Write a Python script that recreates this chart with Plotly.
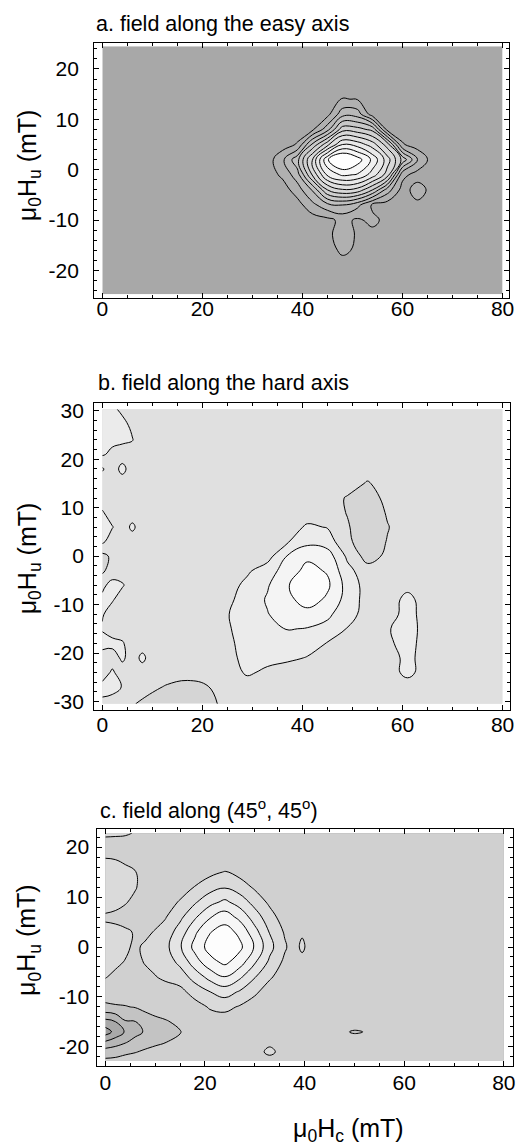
import plotly.graph_objects as go

W, H = 521, 1148
FONT = "Liberation Sans, Arial, sans-serif"

# ---------------- panel a : field along the easy axis ----------------
a_x = [0, 27, 30, 33, 36, 39, 42, 45, 48, 51, 54, 57, 60, 63, 66, 69, 80]
a_y = [-24.7, -19, -16, -13, -10, -7, -4, -1, 2, 5, 8, 11, 14, 17, 24.5]
a_z = [
    [0, 0, 0, 0, 0, 0, 0, 0, 0, 0, 0, 0, 0, 0, 0, 0, 0],
    [0, 0, 0, 0, 0, 0, 0, 0, 0, 0, 0, 0, 0, 0, 0, 0, 0],
    [0, 0, 0, 0, 0, 0, 0, 0, 0.75, 0.3, 0, 0, 0, 0, 0, 0, 0],
    [0, 0, 0, 0, 0, 0, 0, 0.3, 0.9, 0.4, 0.2, 0, 0, 0, 0, 0, 0],
    [0, 0, 0, 0, 0, 0, 0, 0.2, 0.8, 0.35, 0.75, 0.2, 0, 0, 0, 0, 0],
    [0, 0, 0, 0, 0, 0.1, 1.2, 2.2, 2.5, 1.8, 0.3, 0, 0, 0.3, 0, 0, 0],
    [0, 0, 0, 0, 0, 1.0, 2.6, 5.5, 6.39, 6.12, 4.5, 2.0, 0.1, 0.9, 0.2, 0, 0],
    [0, 0, 0, 0, 0.7, 2.06, 5.62, 8.69, 9.69, 9.4, 8.05, 6.0, 0.8, 0.1, 0, 0, 0],
    [0, 0, 0, 0, 1.27, 3.2, 6.67, 10.39, 12.0, 11.0, 9.27, 6.96, 4.21, 1.5, 0, 0, 0],
    [0, 0, 0, 0, 0, 0.6, 3.7, 6.2, 8.5, 8.08, 7.0, 5.0, 0.6, 0, 0, 0, 0],
    [0, 0, 0, 0, 0, 0, 0.3, 2.1, 5.1, 4.89, 4.2, 0.1, 0, 0, 0, 0, 0],
    [0, 0, 0, 0, 0, 0, 0, 0.2, 2.1, 2.0, 0, 0, 0, 0, 0, 0, 0],
    [0, 0, 0, 0, 0, 0, 0, 0, 0.55, 0.45, 0, 0, 0, 0, 0, 0, 0],
    [0, 0, 0, 0, 0, 0, 0, 0, 0, 0, 0, 0, 0, 0, 0, 0, 0],
    [0, 0, 0, 0, 0, 0, 0, 0, 0, 0, 0, 0, 0, 0, 0, 0, 0],
]
a_colors = ["#a8a8a8", "#b0b0b0", "#b8b8b8", "#c0c0c0", "#c8c8c8", "#d0d0d0",
            "#d8d8d8", "#e0e0e0", "#e8e8e8", "#f0f0f0", "#f7f7f7", "#ffffff"]

# ---------------- panel b : field along the hard axis ----------------
b_x = [0, 2, 4, 6, 8, 10, 13, 17, 21, 25, 29, 33, 37, 41, 45, 49, 53, 57, 61, 65, 70, 80]
b_y = [-30.5, -27, -24, -21, -18, -15, -12, -9, -6, -3, 0, 3, 6, 9, 12, 15, 18, 21, 24, 27, 30.3]
b_z = [
    [0.3, 0, 0, -0.4, -0.7, -0.9, -1.2, -1.3, -1.0, 0, 0, 0, 0, 0, 0, 0, 0, 0, 0, 0, 0, 0],
    [0.8, 0.9, 0.45, 0, 0, -0.3, -0.6, -0.9, -0.55, 0, 0, 0, 0, 0, 0, 0, 0, 0, 0, 0, 0, 0],
    [0, 0.65, 0, 0, 0, 0, 0, 0, 0, 0, 0.65, 0.3, 0, 0, 0, 0, 0, 0, 0.8, 0, 0, 0],
    [0, 0, 0.7, 0, 0.75, 0, 0, 0, 0, 0.2, 0.8, 0.8, 0.7, 0.45, 0, 0, 0, 0, 0.8, 0, 0, 0],
    [0.9, 0.8, 0.6, 0, 0, 0, 0, 0, 0, 0.3, 0.85, 1.0, 1.0, 0.9, 0.45, 0, 0, 0.3, 0.9, 0, 0, 0],
    [0.4, 0, 0, 0, 0, 0, 0, 0, 0, 0.4, 0.9, 1.2, 1.55, 1.45, 1.2, 0.45, 0, 0.4, 1.0, 0, 0, 0],
    [0.6, 0, 0, 0, 0, 0, 0, 0, 0, 0.45, 1.0, 1.45, 2.0, 2.1, 1.7, 0.9, 0.1, 0, 0.9, 0, 0, 0],
    [0.7, 0.6, 0, 0, 0, 0, 0, 0, 0, 0.3, 0.9, 1.6, 2.2, 3.0, 2.3, 1.1, 0.1, 0, 0.8, 0, 0, 0],
    [0.3, 0.8, 0.6, 0, 0, 0, 0, 0, 0, 0.1, 0.75, 1.4, 2.4, 3.4, 2.7, 1.1, 0.1, 0, 0.2, 0, 0, 0],
    [-0.7, 0, 0, 0, 0, 0, 0, 0, 0, 0, 0.35, 1.0, 2.0, 2.8, 2.4, 0.8, -0.1, 0, 0, 0, 0, 0],
    [-0.8, -0.3, 0, 0, 0, 0, 0, 0, 0, 0, 0, 0.1, 1.55, 2.3, 2.0, 0.3, -0.9, -0.3, 0, 0, 0, 0],
    [0.7, 0, 0, 0, 0, 0, 0, 0, 0, 0, 0, 0, 0.4, 1.2, 1.0, -0.3, -1.1, -0.45, 0, 0, 0, 0],
    [0.9, 0.55, 0, 0.7, 0, 0, 0, 0, 0, 0, 0, 0, 0, 0.65, 0.45, -0.4, -1.2, -0.55, 0, 0, 0, 0],
    [0.6, 0, 0, 0, 0, 0, 0, 0, 0, 0, 0, 0, 0, 0, 0, -0.55, -1.2, -0.4, 0, 0, 0, 0],
    [0, 0, 0, 0, 0, 0, 0, 0, 0, 0, 0, 0, 0, 0, 0, -0.6, -1.0, -0.2, 0, 0, 0, 0],
    [0, 0, 0, 0, 0, 0, 0, 0, 0, 0, 0, 0, 0, 0, 0, 0, -0.6, 0, 0, 0, 0, 0],
    [-0.6, 0, 0.8, 0, 0, 0, 0, 0, 0, 0, 0, 0, 0, 0, 0, 0, 0, 0, 0, 0, 0, 0],
    [0.6, 0.3, 0, 0, 0, 0, 0, 0, 0, 0, 0, 0, 0, 0, 0, 0, 0, 0, 0, 0, 0, 0],
    [0.9, 0.7, 0.7, 0.55, 0, 0, 0, 0, 0, 0, 0, 0, 0, 0, 0, 0, 0, 0, 0, 0, 0, 0],
    [0.8, 1.0, 0.8, 0.3, 0, 0, 0, 0, 0, 0, 0, 0, 0, 0, 0, 0, 0, 0, 0, 0, 0, 0],
    [0.8, 0.7, 0.3, 0, 0, 0, 0, 0, 0, 0, 0, 0, 0, 0, 0, 0, 0, 0, 0, 0, 0, 0],
]
b_colors = ["#d5d5d5", "#e0e0e0", "#ebebeb", "#f4f4f4", "#fcfcfc"]

# ---------------- panel c : field along (45°, 45°) ----------------
c_x = [0, 2, 4, 6, 8, 10, 12, 15, 18, 21, 24, 27, 30, 33, 36, 38, 39.5, 41, 44, 50, 60, 70, 80]
c_y = [-22.8, -21, -19, -17, -15, -12, -9, -6, -3, 0, 3, 6, 9, 12, 15, 18, 21, 22.8]
c_z = [
    [-0.3, -0.25, 0, 0, 0, 0, 0, 0, 0, 0, 0, 0, 0, 0, 0, 0, 0, 0, 0, 0, 0, 0, 0],
    [-1.0, -0.9, -0.75, -0.55, -0.35, -0.2, 0, 0, 0, 0, 0, 0, 0, 0.8, 0, 0, 0, 0, 0, 0, 0, 0, 0],
    [-2.4, -2.0, -1.6, -1.2, -0.9, -0.7, -0.55, -0.2, 0, 0, 0, 0, 0, 0.2, 0, 0, 0, 0, 0, 0, 0, 0, 0],
    [-4.0, -3.2, -2.4, -1.8, -1.4, -1.0, -0.8, -0.55, -0.1, 0, 0, 0, 0, 0, 0, 0, 0, 0, 0, -0.6, 0, 0, 0],
    [-2.9, -2.55, -1.6, -1.55, -0.9, -0.75, -0.6, -0.3, 0, 0, 0, 0, 0, 0, 0, 0, 0, 0, 0, 0, 0, 0, 0],
    [-0.7, -0.6, -0.55, -0.45, -0.3, -0.1, 0, 0, 0.1, 0.6, 0.77, 0.4, 0, 0, 0, 0, 0, 0, 0, 0, 0, 0, 0],
    [0, 0, 0, 0, 0, 0, 0, 0.2, 0.9, 1.48, 1.94, 1.38, 0.68, 0, 0, 0, 0, 0, 0, 0, 0, 0, 0],
    [0.55, 0.3, 0, 0, 0.1, 0.45, 0.7, 0.98, 1.91, 2.85, 3.47, 2.68, 1.56, 0.63, 0, 0, 0, 0, 0, 0, 0, 0, 0],
    [0.8, 0.7, 0.45, 0.1, 0.6, 0.8, 0.95, 1.75, 3.05, 4.16, 4.73, 3.98, 2.62, 1.3, 0.29, 0, 0, 0, 0, 0, 0, 0, 0],
    [0.9, 0.8, 0.7, 0.3, 0.7, 0.9, 1.18, 2.38, 3.83, 4.88, 5.6, 4.73, 3.4, 1.81, 0.64, 0, 0.8, 0, 0, 0, 0, 0, 0],
    [0.9, 0.85, 0.7, 0.4, 0.2, 0.6, 0.91, 1.96, 3.32, 4.45, 4.95, 4.25, 2.87, 1.44, 0.4, 0, 0.3, 0, 0, 0, 0, 0, 0],
    [0.3, 0.2, 0, 0, 0, 0, 0.42, 1.27, 2.36, 3.42, 4.02, 3.22, 2.0, 0.91, 0, 0, 0, 0, 0, 0, 0, 0, 0],
    [1.1, 0.9, 0.6, 0.2, 0, 0, 0, 0.6, 1.38, 2.18, 2.71, 2.04, 1.14, 0.29, 0, 0, 0, 0, 0, 0, 0, 0, 0],
    [1.3, 1.0, 0.85, 0.6, 0, 0, 0, 0, 0.54, 1.09, 1.41, 1.0, 0.34, 0, 0, 0, 0, 0, 0, 0, 0, 0, 0],
    [1.1, 1.0, 0.8, 0.55, 0, 0, 0, 0, 0, 0.24, 0.55, 0.16, 0, 0, 0, 0, 0, 0, 0, 0, 0, 0, 0],
    [0.45, 0.4, 0.2, 0, 0, 0, 0, 0, 0, 0, 0, 0, 0, 0, 0, 0, 0, 0, 0, 0, 0, 0, 0],
    [0.1, 0, 0, 0, 0, 0, 0, 0, 0, 0, 0, 0, 0, 0, 0, 0, 0, 0, 0, 0, 0, 0, 0],
    [0.8, 0.8, 0.7, 0.4, 0, 0, 0, 0, 0, 0, 0, 0, 0, 0, 0, 0, 0, 0, 0, 0, 0, 0, 0],
]
c_colors = ["#9c9c9c", "#a9a9a9", "#b6b6b6", "#c3c3c3", "#d0d0d0",
            "#dadada", "#e4e4e4", "#eeeeee", "#f6f6f6", "#fdfdfd"]

# tick values / labels
x_ticks = [0, 20, 40, 60, 80]
a_yticks = [-20, -10, 0, 10, 20]
b_yticks = [-30, -20, -10, 0, 10, 20, 30]
c_yticks = [-20, -10, 0, 10, 20]


def band_scale(colors):
    n = len(colors)
    cs = []
    for k, c in enumerate(colors):
        lo = max(0.0, (k - 0.5) / (n - 1))
        hi = min(1.0, (k + 0.5) / (n - 1))
        cs += [[lo, c], [hi, c]]
    return cs


def contour(x, y, z, colors, start, end, xa, ya):
    return go.Contour(
        x=x, y=y, z=z, xaxis=xa, yaxis=ya,
        autocontour=False,
        contours=dict(start=start, end=end, size=1, coloring="fill"),
        colorscale=band_scale(colors), showscale=False,
        line=dict(color="black", width=1, smoothing=1.2),
        hoverinfo="skip",
    )


fig = go.Figure()
fig.add_trace(contour(a_x, a_y, a_z, a_colors, 0.5, 10.5, "x", "y"))
fig.add_trace(contour(b_x, b_y, b_z, b_colors, -0.5, 2.5, "x2", "y2"))
fig.add_trace(contour(c_x, c_y, c_z, c_colors, -3.5, 4.5, "x3", "y3"))

tickfont = dict(family=FONT, size=21, color="black")
common = dict(ticks="inside", ticklen=5, tickwidth=1, tickcolor="black",
              showline=True, linecolor="black", linewidth=1, mirror="allticks",
              showgrid=False, zeroline=False, tickfont=tickfont)


def xaxis(domain, rng, anchor, standoff):
    return dict(domain=domain, range=rng, anchor=anchor,
                tickmode="array", tickvals=x_ticks, ticktext=[str(v) for v in x_ticks],
                minor=dict(ticks="inside", ticklen=3, tickcolor="black", tickwidth=1,
                           tickmode="linear", tick0=0, dtick=5, showgrid=False),
                ticklabelstandoff=standoff, **common)


def yaxis(domain, rng, anchor, ticks, standoff):
    return dict(domain=domain, range=rng, anchor=anchor,
                tickmode="array", tickvals=ticks, ticktext=[str(v) for v in ticks],
                minor=dict(ticks="inside", ticklen=3, tickcolor="black", tickwidth=1,
                           tickmode="linear", tick0=0, dtick=2, showgrid=False),
                ticklabelstandoff=standoff, **common)


fig.update_layout(
    width=W, height=H, margin=dict(l=0, r=0, t=0, b=0),
    paper_bgcolor="white", plot_bgcolor="white", showlegend=False,
    xaxis=xaxis([95 / W, 514 / W], [-1.64, 81.3], "y", -8),
    yaxis=yaxis([1 - 296 / H, 1 - 39 / H], [-25.5, 25.2], "x", a_yticks, 10),
    xaxis2=xaxis([95 / W, 515 / W], [-1.64, 81.5], "y2", -4),
    yaxis2=yaxis([1 - 710 / H, 1 - 401.7 / H], [-31.7, 31.56], "x2", b_yticks, 5),
    xaxis3=xaxis([98.3 / W, 518.3 / W], [-1.6, 81.9], "y3", -2),
    yaxis3=yaxis([1 - 1068.3 / H, 1 - 830 / H], [-23.78, 23.64], "x3", c_yticks, 3),
)

titles = [
    ("a. field along the easy axis", 95, 20),
    ("b. field along the hard axis", 97, 381.7),
    ("c. field along (45<sup>o</sup>, 45<sup>o</sup>)", 99, 810),
]
for text, px, py in titles:
    fig.add_annotation(text=text, x=px / W, y=1 - py / H, xref="paper", yref="paper",
                       xanchor="left", yanchor="middle", showarrow=False,
                       font=dict(family=FONT, size=21.5, color="black"))

ytitle = "μ<sub>0</sub>H<sub>u</sub> (mT)"
for py in [162.5, 558, 942]:
    fig.add_annotation(text=ytitle, x=29 / W, y=1 - py / H, xref="paper", yref="paper",
                       xanchor="center", yanchor="middle", textangle=-90, showarrow=False,
                       font=dict(family=FONT, size=25, color="black"))

fig.add_annotation(text="μ<sub>0</sub>H<sub>c</sub> (mT)", x=352 / W, y=1 - 1133 / H,
                   xref="paper", yref="paper", xanchor="center", yanchor="middle",
                   showarrow=False, font=dict(family=FONT, size=25, color="black"))

fig.write_html("out.html")
